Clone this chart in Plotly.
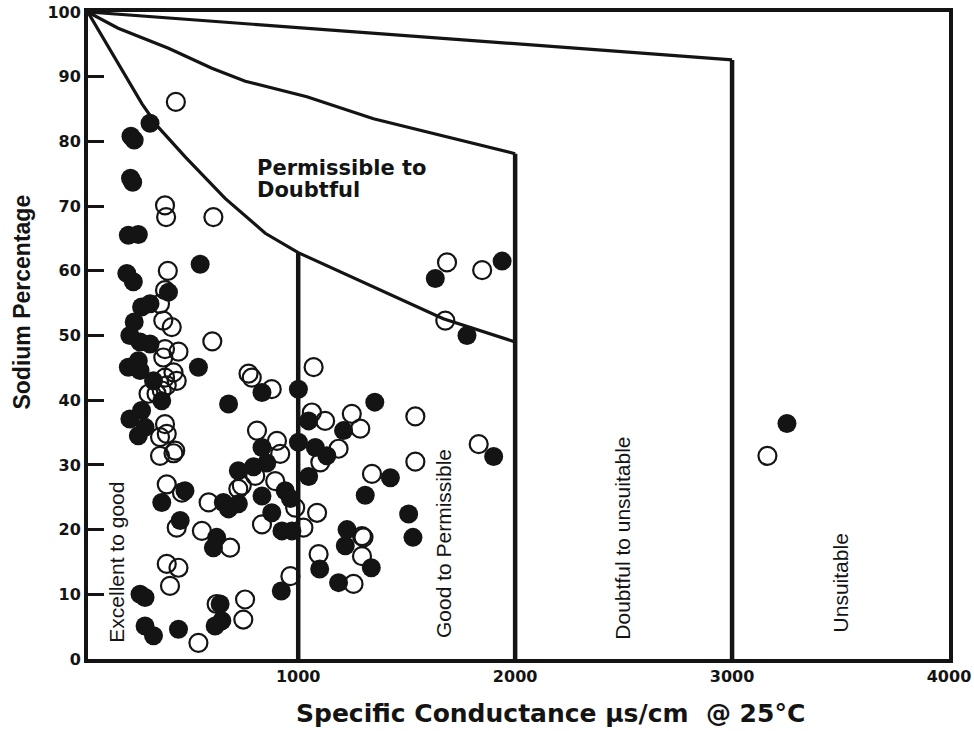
import plotly.graph_objects as go

# ---------------- data ----------------
# Open (hollow) circles: specific conductance (µS/cm) and sodium %
open_ec = [436, 386, 391, 609, 399, 386, 363, 378, 417, 604, 386, 448, 378, 425, 440, 386, 394,
           771, 786, 878, 347, 310, 371, 386, 394, 363, 433, 363, 425, 810, 902, 917, 394, 464,
           587, 724, 740, 802, 894, 833, 440, 556, 686, 394, 448, 409, 964, 624, 755, 747, 540,
           1071, 1063, 1124, 1247, 1286, 1540, 1186, 1102, 1540, 1832, 1340, 986, 1087, 1294,
           1301, 1094, 1294, 1255, 1024, 1686, 1848, 1678, 3163]
open_na = [86.1, 70.1, 68.3, 68.3, 60.0, 57.0, 54.9, 52.3, 51.3, 49.1, 47.9, 47.5, 46.6, 44.3, 43.0,
           43.5, 42.3, 44.1, 43.5, 41.7, 41.0, 41.0, 41.5, 36.3, 34.8, 34.3, 32.2, 31.4, 31.8, 35.3,
           33.7, 31.7, 27.0, 25.7, 24.2, 26.3, 26.8, 28.3, 27.5, 20.8, 20.3, 19.8, 17.2, 14.7, 14.1,
           11.3, 12.8, 8.5, 9.2, 6.1, 2.5, 45.1, 38.1, 36.8, 37.9, 35.6, 37.5, 32.5, 30.4, 30.5,
           33.2, 28.6, 23.4, 22.6, 19.0, 18.8, 16.2, 15.9, 11.6, 20.3, 61.3, 60.1, 52.3, 31.4]

# Filled (solid) circles
fill_ec = [317, 229, 244, 227, 237, 217, 263, 548, 210, 240, 402, 278, 317, 244, 224, 271, 317,
           217, 263, 271, 540, 333, 833, 1001, 371, 679, 278, 224, 294, 263, 833, 1001, 855, 794,
           724, 478, 371, 655, 679, 724, 833, 940, 964, 878, 925, 971, 456, 624, 609, 271, 294,
           922, 640, 648, 617, 294, 333, 448, 1778, 1353, 1048, 1209, 1079, 1132, 1901, 1048,
           1425, 1309, 1509, 1225, 1529, 1217, 1099, 1337, 1186, 1632, 1940, 3253]
fill_na = [82.8, 80.8, 80.2, 74.3, 73.7, 65.5, 65.6, 61.0, 59.6, 58.3, 56.7, 54.4, 54.9, 52.1, 50.0,
           49.0, 48.7, 45.1, 46.1, 44.6, 45.1, 43.0, 41.2, 41.7, 39.9, 39.4, 38.4, 37.1, 35.8, 34.5,
           32.7, 33.5, 30.3, 29.7, 29.1, 26.0, 24.2, 24.2, 23.2, 24.0, 25.2, 26.0, 24.8, 22.6, 19.8,
           19.8, 21.4, 18.8, 17.2, 10.0, 9.5, 10.5, 8.5, 5.9, 5.1, 5.1, 3.6, 4.6, 50.0, 39.7, 36.8,
           35.3, 32.7, 31.4, 31.3, 28.2, 28.0, 25.3, 22.4, 20.0, 18.8, 17.5, 13.9, 14.1, 11.8,
           58.8, 61.5, 36.4]

# Wilcox class boundaries
top_ec = [30, 1000, 2000, 3000]
top_na = [100, 97.6, 95.1, 92.6]
mid_ec = [30, 170, 402, 602, 756, 1040, 1347, 1655, 2000]
mid_na = [100, 97.5, 94.4, 91.3, 89.3, 86.9, 83.5, 81.0, 78.1]
low_ec = [30, 280, 355, 479, 663, 848, 1000, 1378, 1669, 2000]
low_na = [100, 85.8, 82.2, 77.6, 71.2, 65.8, 62.8, 57.1, 52.6, 49.0]
vert_ec = [1000, 2000, 3000]
vert_top = [62.8, 78.1, 92.6]

x_ticks = [1000, 2000, 3000, 4000]
y_ticks = [0, 10, 20, 30, 40, 50, 60, 70, 80, 90, 100]

region_labels = ["Excellent to good", "Good to Permissible", "Doubtful to unsuitable", "Unsuitable"]
region_ec = [165, 1673, 2491, 3501]
region_na = [14.9, 17.8, 18.7, 11.8]

pd_lines = ["Permissible to", "Doubtful"]
pd_ec = [802, 802]
pd_na = [75.9, 72.5]

# ---------------- figure ----------------
INK = "#141414"
fig = go.Figure()

for xs, ys in [(top_ec, top_na), (mid_ec, mid_na), (low_ec, low_na)]:
    fig.add_trace(go.Scatter(x=xs, y=ys, mode="lines", line=dict(color=INK, width=3.2),
                             hoverinfo="skip", showlegend=False))
for xv, yt in zip(vert_ec, vert_top):
    fig.add_trace(go.Scatter(x=[xv, xv], y=[0, yt], mode="lines", line=dict(color=INK, width=4.5),
                             hoverinfo="skip", showlegend=False))

fig.add_trace(go.Scatter(x=fill_ec, y=fill_na, mode="markers", showlegend=False,
                         marker=dict(symbol="circle", size=19, color=INK, line=dict(width=0))))
fig.add_trace(go.Scatter(x=open_ec, y=open_na, mode="markers", showlegend=False,
                         marker=dict(symbol="circle-open", size=18, color=INK,
                                     line=dict(width=2.2, color=INK))))

for t, xv, yv in zip(region_labels, region_ec, region_na):
    fig.add_annotation(x=xv, y=yv, text=t, textangle=-90, showarrow=False,
                       font=dict(family="Liberation Sans, Arial", size=21, color=INK),
                       xanchor="center", yanchor="middle")

for t, xv, yv in zip(pd_lines, pd_ec, pd_na):
    fig.add_annotation(x=xv, y=yv, text=t, showarrow=False,
                       xanchor="left", yanchor="middle", align="left",
                       font=dict(family="DejaVu Sans", size=21, color=INK, weight="bold"))

fig.add_annotation(xref="paper", yref="paper", x=0.537, y=-0.085,
                   text="Specific Conductance \u03bcs/cm\u00a0\u00a0@ 25\u00b0C", showarrow=False,
                   xanchor="center", yanchor="middle",
                   font=dict(family="DejaVu Sans", size=25, color=INK, weight="bold"))
fig.add_annotation(xref="paper", yref="paper", x=-0.077, y=0.552, text="Sodium Percentage",
                   textangle=-90, showarrow=False, xanchor="center", yanchor="middle",
                   font=dict(family="Liberation Sans, Arial", size=23, color=INK, weight="bold"))

fig.update_layout(
    width=974, height=731,
    margin=dict(l=88, r=25, t=12, b=72, autoexpand=False),
    paper_bgcolor="white", plot_bgcolor="white",
    showlegend=False,
    xaxis=dict(range=[31, 4000], showgrid=False, zeroline=False, automargin=False,
               showline=True, mirror=True, linecolor=INK, linewidth=4,
               tickvals=x_ticks, ticktext=[str(v) for v in x_ticks], ticks="",
               ticklabelstandoff=0,
               tickfont=dict(family="DejaVu Sans", size=16, color=INK, weight="bold")),
    yaxis=dict(range=[0, 100], showgrid=False, zeroline=False, automargin=False,
               showline=True, mirror=True, linecolor=INK, linewidth=4,
               tickvals=y_ticks, ticktext=[str(v) for v in y_ticks],
               ticks="inside", ticklen=16, tickwidth=3, tickcolor=INK,
               tickfont=dict(family="DejaVu Sans", size=16, color=INK, weight="bold")),
)

fig.write_html("out.html", config={"displayModeBar": False},
               post_script="document.body.style.margin='0';document.body.style.overflow='hidden';")
